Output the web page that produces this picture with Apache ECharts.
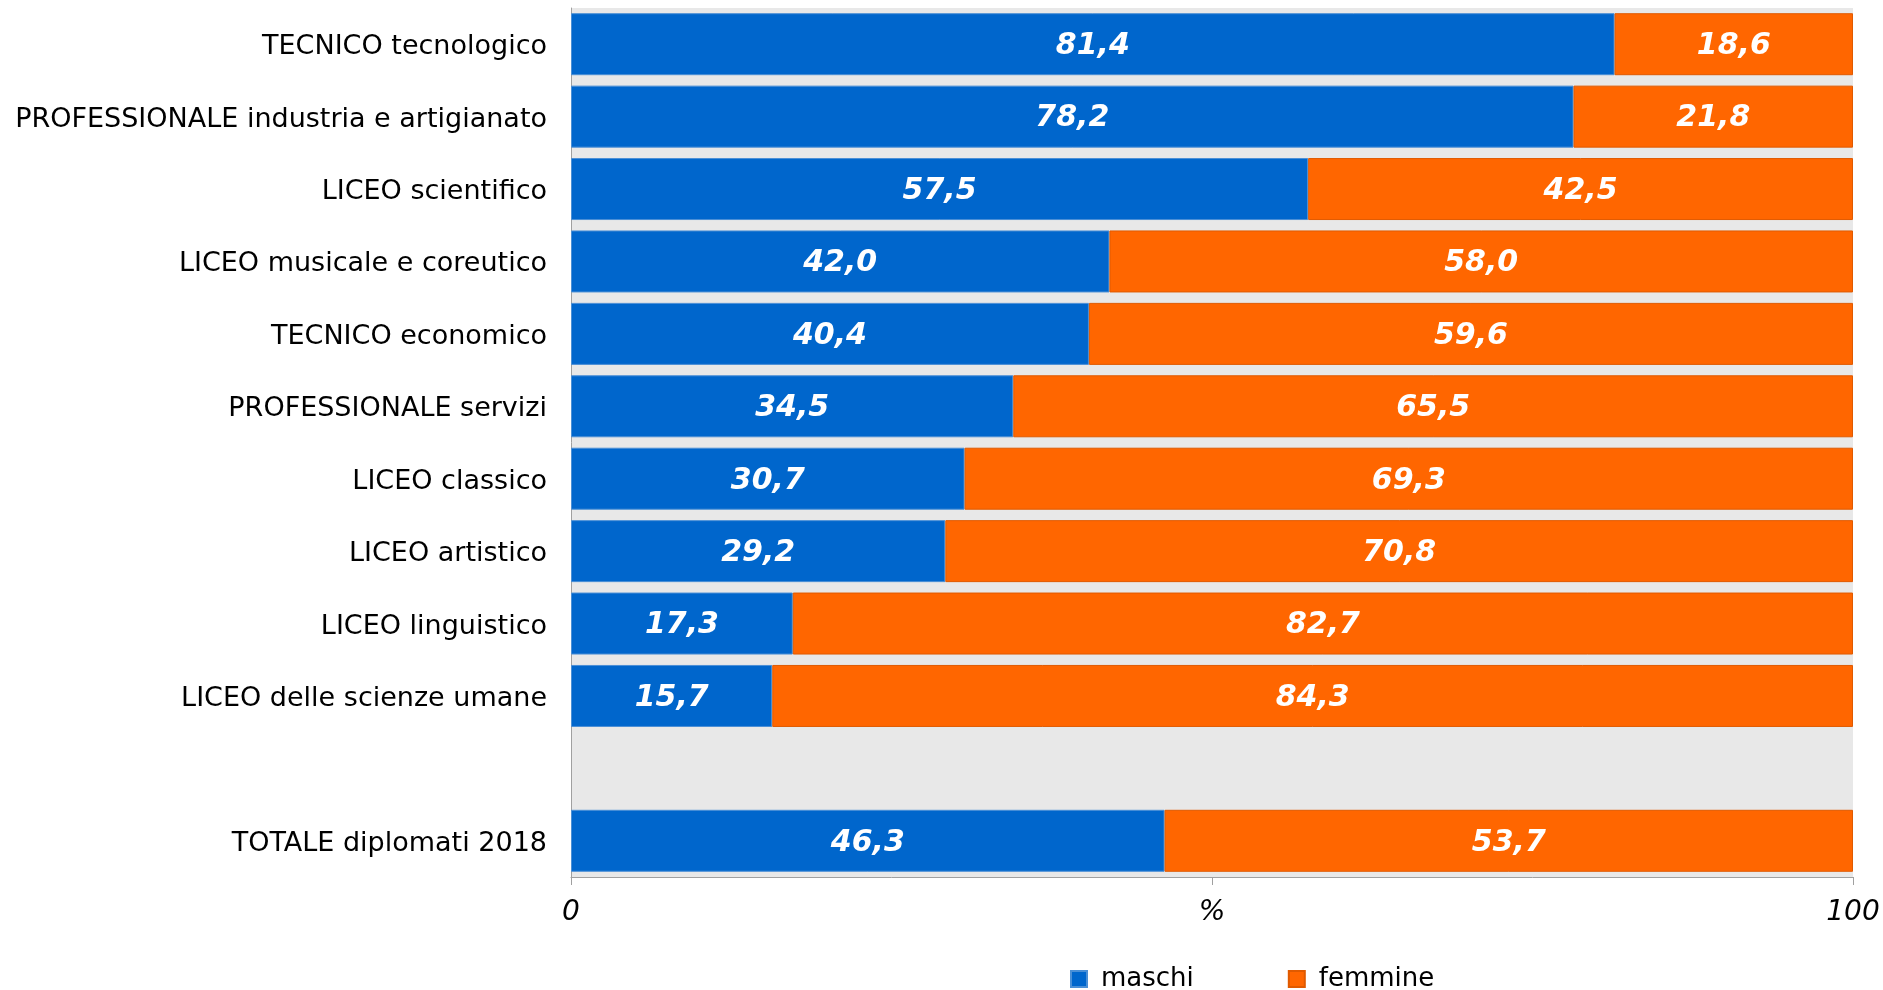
<!DOCTYPE html>
<html>
<head>
<meta charset="utf-8">
<script src="https://cdn.jsdelivr.net/npm/echarts@6/dist/echarts.min.js"></script>
<style>
  html, body { margin: 0; padding: 0; background: #fff; }
  #chart { width: 1883px; height: 990px; }
</style>
</head>
<body>
<div id="chart"></div>
<script>
// categorie (dall'alto verso il basso), la riga vuota separa il totale
let categorie = [
  'TECNICO tecnologico',
  'PROFESSIONALE industria e artigianato',
  'LICEO scientifico',
  'LICEO musicale e coreutico',
  'TECNICO economico',
  'PROFESSIONALE servizi',
  'LICEO classico',
  'LICEO artistico',
  'LICEO linguistico',
  'LICEO delle scienze umane',
  '',
  'TOTALE diplomati 2018'
]
let maschi = [81.4, 78.2, 57.5, 42.0, 40.4, 34.5, 30.7, 29.2, 17.3, 15.7, '-', 46.3]
let femmine = [18.6, 21.8, 42.5, 58.0, 59.6, 65.5, 69.3, 70.8, 82.7, 84.3, '-', 53.7]
let tickLabels = { 0: '0', 50: '%', 100: '100' }

let font = 'DejaVu Sans'
let valueLabel = {
  show: true,
  position: 'inside',
  color: '#fff',
  fontFamily: font,
  fontStyle: 'italic',
  fontWeight: 'bold',
  fontSize: 30,
  offset: [0, 2],
  formatter: p => p.value.toFixed(1).replace('.', ',')
}

let myChart = echarts.init(document.getElementById('chart'))
let option = {
  animation: false,
  grid: {
    left: 571,
    right: 30,
    top: 8,
    bottom: 113,
    show: true,
    backgroundColor: '#E8E8E8',
    borderWidth: 0
  },
  legend: {
    top: 961,
    left: 1065,
    itemWidth: 16,
    itemHeight: 16,
    itemGap: 94,
    icon: 'rect',
    textStyle: { fontFamily: font, fontSize: 26, color: '#000', padding: [0, 0, 0, 9] },
    data: ['maschi', 'femmine']
  },
  xAxis: {
    type: 'value',
    min: 0,
    max: 100,
    interval: 50,
    splitLine: { show: false },
    axisLine: { show: true, lineStyle: { color: '#A0A0A0', width: 1 } },
    axisTick: { show: true, length: 8, lineStyle: { color: '#A0A0A0' } },
    axisLabel: {
      margin: 22,
      fontFamily: font,
      fontStyle: 'italic',
      fontSize: 28,
      color: '#000',
      formatter: v => tickLabels[v] ?? ''
    }
  },
  yAxis: {
    type: 'category',
    inverse: true,
    data: categorie,
    axisLine: { show: true, lineStyle: { color: '#A0A0A0', width: 1 } },
    axisTick: { show: false },
    axisLabel: {
      margin: 24,
      color: '#000',
      formatter: v => v ? '{c|' + v + '}' : '',
      rich: {
        c: { fontFamily: font, fontSize: 27, color: '#000', padding: [6, 0, 0, 0] }
      }
    }
  },
  series: [
    {
      name: 'maschi',
      type: 'bar',
      stack: 'tot',
      barWidth: 62,
      data: maschi,
      itemStyle: { color: '#0066CC', borderColor: '#4A8FD6', borderWidth: 1 },
      label: valueLabel
    },
    {
      name: 'femmine',
      type: 'bar',
      stack: 'tot',
      barWidth: 62,
      data: femmine,
      itemStyle: { color: '#FF6600', borderColor: '#E05A00', borderWidth: 1 },
      label: valueLabel
    }
  ]
}
myChart.setOption(option)
</script>
</body>
</html>
